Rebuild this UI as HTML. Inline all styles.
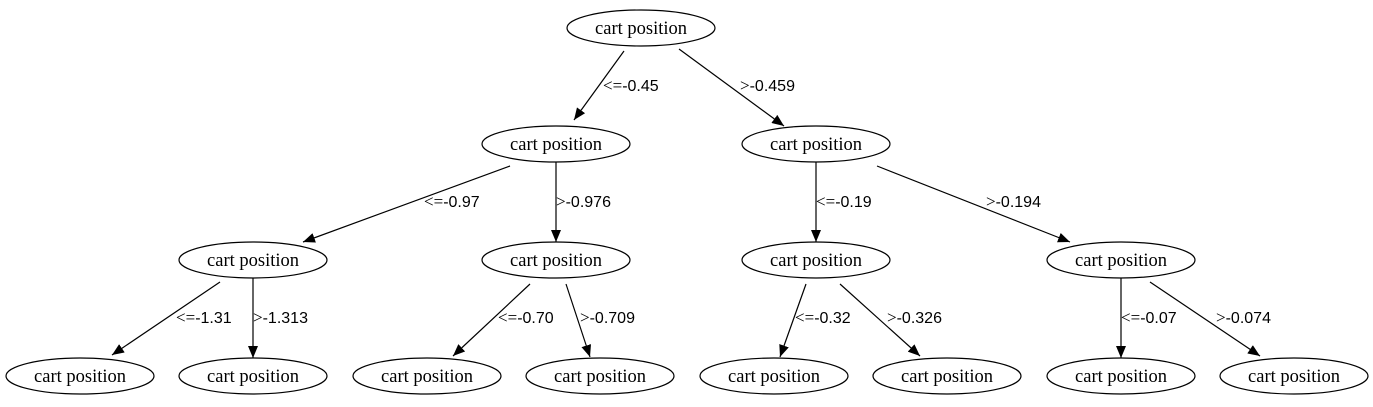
<!DOCTYPE html>
<html><head><meta charset="utf-8"><style>
html,body{margin:0;padding:0;background:#fff;}
svg{display:block;}
text{font-family:"Liberation Serif",serif;font-size:18.5px;fill:#000;}
.l{font-size:17px;}
.l tspan.s{font-family:"Liberation Sans",sans-serif;font-size:16px;}
</style></head><body>
<svg width="1373" height="407" viewBox="0 0 1373 407" xmlns="http://www.w3.org/2000/svg">
<defs>
<marker id="a" viewBox="0 0 12 10" refX="12" refY="5" markerWidth="12" markerHeight="10" markerUnits="userSpaceOnUse" orient="auto">
<polygon points="0,0 12,5 0,10" fill="#000"/>
</marker>
</defs>
<g fill="none" stroke="#000" stroke-width="1.2">
<ellipse cx="641" cy="28" rx="74" ry="18"/>
<ellipse cx="556" cy="144" rx="74" ry="18"/>
<ellipse cx="816" cy="144" rx="74" ry="18"/>
<ellipse cx="253" cy="260" rx="74" ry="18"/>
<ellipse cx="556" cy="260" rx="74" ry="18"/>
<ellipse cx="816" cy="260" rx="74" ry="18"/>
<ellipse cx="1121" cy="260" rx="74" ry="18"/>
<ellipse cx="80" cy="376" rx="74" ry="18"/>
<ellipse cx="253" cy="376" rx="74" ry="18"/>
<ellipse cx="427" cy="376" rx="74" ry="18"/>
<ellipse cx="600" cy="376" rx="74" ry="18"/>
<ellipse cx="774" cy="376" rx="74" ry="18"/>
<ellipse cx="947" cy="376" rx="74" ry="18"/>
<ellipse cx="1121" cy="376" rx="74" ry="18"/>
<ellipse cx="1294" cy="376" rx="74" ry="18"/>
</g>
<g stroke="#000" stroke-width="1.2" marker-end="url(#a)">
<line x1="624" y1="51" x2="574" y2="120"/>
<line x1="679" y1="49" x2="784" y2="126"/>
<line x1="510" y1="166" x2="303" y2="242"/>
<line x1="556" y1="162" x2="556" y2="242"/>
<line x1="816" y1="162" x2="816" y2="242"/>
<line x1="877" y1="166" x2="1070" y2="242"/>
<line x1="220" y1="282" x2="112" y2="355"/>
<line x1="253" y1="278" x2="253" y2="358"/>
<line x1="530" y1="284" x2="453" y2="356"/>
<line x1="566" y1="284" x2="590" y2="357"/>
<line x1="806" y1="284" x2="780" y2="357"/>
<line x1="840" y1="284" x2="920" y2="356"/>
<line x1="1121" y1="278" x2="1121" y2="358"/>
<line x1="1150" y1="282" x2="1260" y2="356"/>
</g>
<g text-anchor="middle">
<text x="641" y="34">cart position</text>
<text x="556" y="150">cart position</text>
<text x="816" y="150">cart position</text>
<text x="253" y="266">cart position</text>
<text x="556" y="266">cart position</text>
<text x="816" y="266">cart position</text>
<text x="1121" y="266">cart position</text>
<text x="80" y="382">cart position</text>
<text x="253" y="382">cart position</text>
<text x="427" y="382">cart position</text>
<text x="600" y="382">cart position</text>
<text x="774" y="382">cart position</text>
<text x="947" y="382">cart position</text>
<text x="1121" y="382">cart position</text>
<text x="1294" y="382">cart position</text>
</g>
<g class="l">
<text class="l" x="603" y="91">&lt;=<tspan class="s">-0.45</tspan></text>
<text class="l" x="740" y="91">&gt;<tspan class="s">-0.459</tspan></text>
<text class="l" x="424" y="207">&lt;=<tspan class="s">-0.97</tspan></text>
<text class="l" x="556" y="207">&gt;<tspan class="s">-0.976</tspan></text>
<text class="l" x="816" y="207">&lt;=<tspan class="s">-0.19</tspan></text>
<text class="l" x="986" y="207">&gt;<tspan class="s">-0.194</tspan></text>
<text class="l" x="176" y="323">&lt;=<tspan class="s">-1.31</tspan></text>
<text class="l" x="253" y="323">&gt;<tspan class="s">-1.313</tspan></text>
<text class="l" x="498" y="323">&lt;=<tspan class="s">-0.70</tspan></text>
<text class="l" x="580" y="323">&gt;<tspan class="s">-0.709</tspan></text>
<text class="l" x="795" y="323">&lt;=<tspan class="s">-0.32</tspan></text>
<text class="l" x="887" y="323">&gt;<tspan class="s">-0.326</tspan></text>
<text class="l" x="1121" y="323">&lt;=<tspan class="s">-0.07</tspan></text>
<text class="l" x="1216" y="323">&gt;<tspan class="s">-0.074</tspan></text>
</g>
</svg>
</body></html>
